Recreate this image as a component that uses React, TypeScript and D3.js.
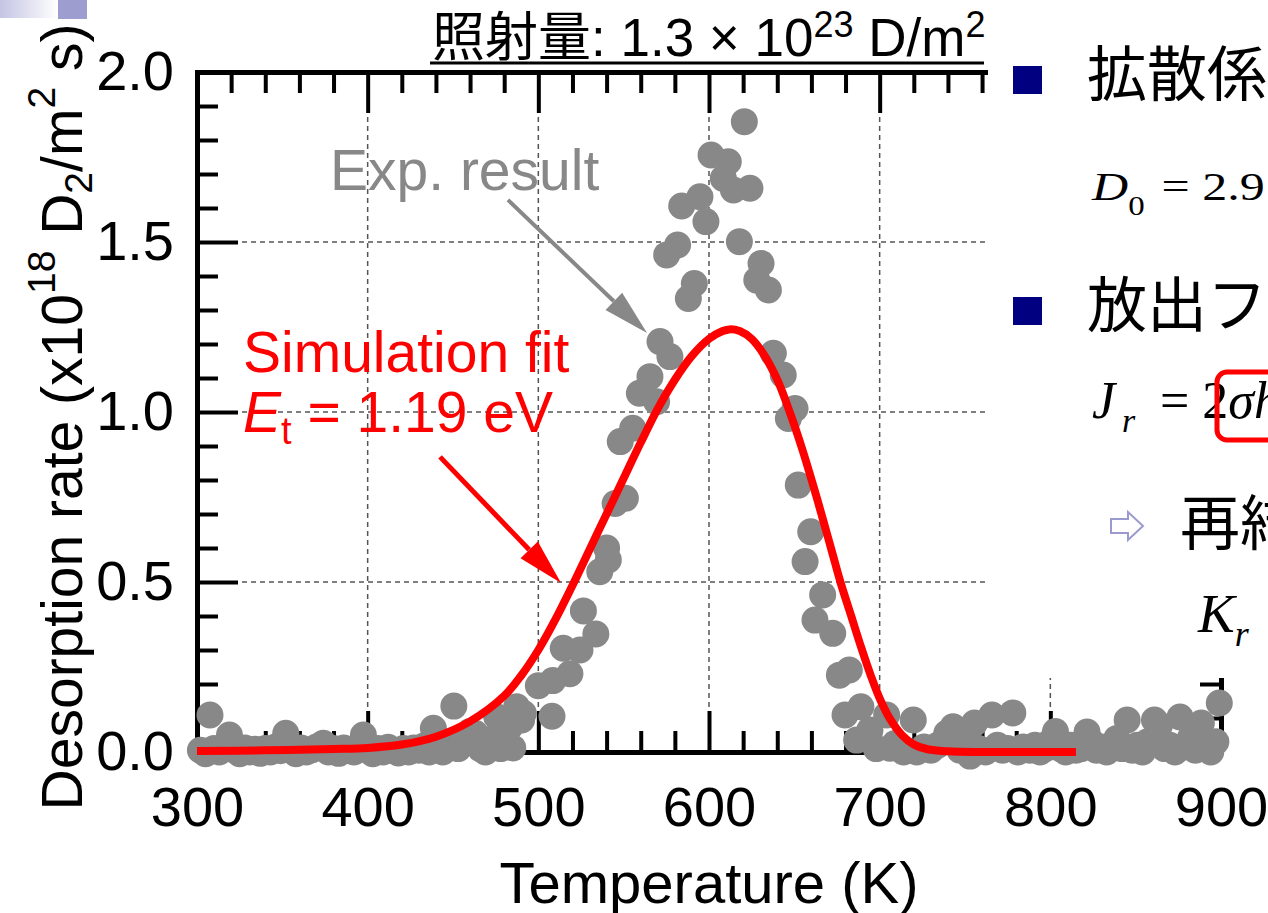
import React, { useEffect, useRef } from "react";
import * as d3 from "d3";

// Experimental desorption data (K, x10^18 D2/m^2 s)
const expTemp = [
  302, 305, 307.6, 310, 313, 316, 319, 322, 325, 328, 331, 334, 337, 340, 343, 346, 349, 352, 355, 358,
  361, 364, 367, 370, 374, 377, 380, 383, 386, 389, 392, 395, 397.5, 400, 403, 406, 409, 412, 415, 418,
  421, 424, 427, 430, 433, 436, 438.5, 441, 444, 447, 450.5, 453, 456, 460, 463, 466, 469, 471, 473.6, 475.6,
  478, 480, 483.4, 485, 487.3, 490.2, 491.2, 500, 508, 508.5, 514.6, 518.5, 524.4, 526.4, 533.7, 536, 540, 541,
  545, 548, 551, 555.3, 559.2, 565.4, 569.3, 571.3, 575.2, 577.1, 581.6, 584, 587.9, 591.4, 594.7, 598.2,
  601.2, 608.4, 611.3, 614.3, 617.8, 620.7, 624, 628, 630.5, 634.8, 637.7, 643.5, 646.5, 650.4, 652.3, 656.3,
  659.6, 662.1, 666.6, 672.5, 676.4, 679.7, 682.2, 686.5, 689, 694.3, 698, 704.1, 706, 709, 714, 719.7, 721.7,
  726, 730, 734, 739.3, 743, 747, 751, 753, 755.6, 758, 762, 765.8, 769, 772, 775, 778, 781, 784, 788, 791,
  794, 797, 800, 803, 806, 809, 812, 815, 818, 821.5, 824, 827, 830, 833, 836, 839, 842, 845, 848, 851, 854,
  857, 861, 864, 867, 870, 873, 876, 879, 882, 885, 888.5, 891, 894, 897, 899,
];
const expRate = [
  0.005, -0.005, 0.109, 0.01, 0.0, 0.015, 0.05, 0.005, -0.005, 0.012, 0.0, 0.008, -0.004, 0.01, 0.0, 0.015, 0.004, 0.055, 0.008, -0.005,
  0.012, 0.0, 0.006, 0.015, 0.026, 0.0, 0.01, -0.004, 0.012, 0.004, 0.0, 0.01, 0.05, 0.005, -0.005, 0.01, 0.0, 0.014, 0.004, -0.003,
  0.01, 0.0, 0.012, 0.005, 0.018, 0.0, 0.07, 0.012, 0.0, 0.02, 0.135, 0.01, 0.025, 0.06, 0.055, 0.01, 0.0, 0.02, 0.04, 0.104,
  0.01, 0.03, 0.074, 0.012, 0.133, 0.094, 0.114, 0.195, 0.105, 0.21, 0.305, 0.23, 0.3, 0.415, 0.347, 0.53, 0.6, 0.565,
  0.731, 0.913, 0.746, 0.952, 1.055, 1.104, 1.03, 1.207, 1.462, 1.163, 1.491, 1.606, 1.334, 1.378, 1.633, 1.56,
  1.756, 1.687, 1.736, 1.653, 1.501, 1.854, 1.658, 1.388, 1.437, 1.359, 1.173, 1.109, 0.981, 1.01, 0.785, 0.56,
  0.648, 0.388, 0.462, 0.349, 0.226, 0.109, 0.241, 0.035, 0.133, 0.065, 0.01, 0.109, 0.011, 0.025, 0.0, 0.094, 0.0,
  0.015, 0.005, 0.02, 0.055, 0.074, 0.005, 0.056, -0.012, 0.085, 0.01, 0.0, 0.109, 0.02, 0.005, 0.01, 0.115, 0.0, 0.015, 0.005, 0.02,
  0.0, 0.01, 0.03, 0.06, 0.01, 0.0, 0.02, 0.005, 0.01, 0.059, 0.03, 0.005, 0.015, 0.0, 0.02, 0.04, 0.01, 0.094, 0.005, 0.02, 0.0,
  0.03, 0.094, 0.079, 0.01, 0.02, 0.0, 0.103, 0.015, 0.04, 0.005, 0.085, 0.02, 0.0, 0.03, 0.144,
];

// Simulation fit curve (Et = 1.19 eV)
const fitTemp = [
  300, 340, 380, 400, 420, 440, 460, 480, 490, 500, 510, 520, 530, 540, 550, 560, 570, 580, 590, 600,
  608, 612, 618, 625, 632, 640, 648, 655, 661, 667, 672, 677, 683, 689, 695, 700, 706, 713, 720, 728,
  740, 760, 815,
];
const fitRate = [
  0.003, 0.005, 0.009, 0.012, 0.022, 0.045, 0.09, 0.165, 0.225, 0.3, 0.39, 0.49, 0.595, 0.7, 0.805, 0.91, 1.01, 1.095, 1.165, 1.215,
  1.238, 1.243, 1.238, 1.215, 1.17, 1.095, 0.99, 0.885, 0.785, 0.68, 0.59, 0.5, 0.405, 0.31, 0.222, 0.158, 0.098, 0.05, 0.022, 0.008,
  0.002, 0.0, 0.0,
];

const xMajor = [300, 400, 500, 600, 700, 800, 900];
const yMajor = [0, 0.5, 1.0, 1.5, 2.0];
const xGrid = [400, 500, 600, 700, 800];
const yGrid = [0.5, 1.0, 1.5];

const SANS = "'Liberation Sans', Arial, 'Noto Sans CJK JP', sans-serif";
const SERIF = "'Liberation Serif', 'Times New Roman', serif";
const CJK = "'Noto Sans CJK JP', 'Liberation Sans', sans-serif";

const App = () => {
  const svgRef = useRef<SVGSVGElement | null>(null);

  useEffect(() => {
    drawChart();
  }, []);

  const drawChart = () => {
    const svg = d3.select(svgRef.current);
    svg.selectAll("*").remove();

    const x = d3.scaleLinear().domain([300, 900]).range([197, 1221]);
    const y = d3.scaleLinear().domain([0, 2]).range([752, 72]);
    const [x0, x1] = x.range();
    const [yb, yt] = y.range();

    // slide decoration top-left
    const defs = svg.append("defs");
    const grad = defs.append("linearGradient").attr("id", "deco").attr("x1", 0).attr("x2", 1);
    grad.append("stop").attr("offset", 0).attr("stop-color", "#c4c4e4");
    grad.append("stop").attr("offset", 1).attr("stop-color", "#ffffff");
    svg.append("rect").attr("x", 0).attr("y", 0).attr("width", 58).attr("height", 18).attr("fill", "url(#deco)");
    svg.append("rect").attr("x", 58).attr("y", 0).attr("width", 29).attr("height", 19).attr("fill", "#9d9dd0");

    // dashed grid
    const grid = svg.append("g").attr("stroke", "#555").attr("stroke-width", 1.5).attr("stroke-dasharray", "5,4");
    grid.selectAll(".gx").data(xGrid).enter().append("line")
      .attr("x1", (d) => x(d)).attr("x2", (d) => x(d)).attr("y1", yt).attr("y2", yb);
    grid.selectAll(".gy").data(yGrid).enter().append("line")
      .attr("x1", x0).attr("x2", x1).attr("y1", (d) => y(d)).attr("y2", (d) => y(d));

    // axes: minor + major ticks pointing inward
    const xMinor = d3.range(300, 901, 20).filter((v) => v % 100 !== 0);
    const yMinor = d3.range(0, 21, 1).map((v) => v / 10).filter((v) => Math.round(v * 10) % 5 !== 0);

    const styleAxis = (g: any, showDomain: boolean) => {
      g.select(".domain").attr("stroke-width", showDomain ? 5 : 0).attr("stroke-linecap", "square");
      g.selectAll(".tick line").attr("stroke-width", 4);
      g.selectAll("text").attr("font-family", SANS).attr("font-size", 56).attr("fill", "#000");
    };

    const axes = svg.append("g");
    const addAxis = (axis: any, tx: number, ty: number, domain: boolean) => {
      const g = axes.append("g").attr("transform", `translate(${tx},${ty})`).call(axis);
      styleAxis(g, domain);
      return g;
    };

    addAxis(d3.axisBottom(x).tickValues(xMinor).tickSize(-21).tickSizeOuter(0).tickFormat(() => ""), 0, yb, false);
    addAxis(d3.axisTop(x).tickValues(xMinor).tickSize(-21).tickSizeOuter(0).tickFormat(() => ""), 0, yt, false);
    addAxis(d3.axisLeft(y).tickValues(yMinor).tickSize(-21).tickSizeOuter(0).tickFormat(() => ""), x0, 0, false);
    addAxis(d3.axisRight(y).tickValues(yMinor).tickSize(-21).tickSizeOuter(0).tickFormat(() => ""), x1, 0, false);

    addAxis(
      d3.axisBottom(x).tickValues(xMajor).tickSize(-41).tickSizeOuter(0).tickPadding(34).tickFormat(d3.format("d")),
      0, yb, true
    );
    addAxis(d3.axisTop(x).tickValues(xMajor).tickSize(-41).tickSizeOuter(0).tickFormat(() => ""), 0, yt, true);
    addAxis(
      d3.axisLeft(y).tickValues(yMajor).tickSize(-41).tickSizeOuter(0).tickPadding(23).tickFormat(d3.format(".1f")),
      x0, 0, true
    );
    addAxis(d3.axisRight(y).tickValues(yMajor).tickSize(-41).tickSizeOuter(0).tickFormat(() => ""), x1, 0, true);

    // experimental points
    svg.append("g").selectAll("circle").data(expTemp).enter().append("circle")
      .attr("cx", (d) => x(d))
      .attr("cy", (_, i) => y(expRate[i]))
      .attr("r", 13.5)
      .attr("fill", "#888888");

    // simulation fit
    const line = d3.line<number>()
      .x((d) => x(d))
      .y((_, i) => y(fitRate[i]))
      .curve(d3.curveCatmullRom.alpha(0.5));
    svg.append("path").attr("d", line(fitTemp)).attr("fill", "none").attr("stroke", "#ff0000").attr("stroke-width", 8);

    // annotation arrows (data coordinates)
    const arrow = (from: number[], to: number[], color: string, width: number) => {
      const ax = x(from[0]), ay = y(from[1]), bx = x(to[0]), by = y(to[1]);
      const ang = Math.atan2(by - ay, bx - ax);
      const len = 46, half = 12;
      const cx = bx - len * Math.cos(ang), cy = by - len * Math.sin(ang);
      svg.append("line").attr("x1", ax).attr("y1", ay).attr("x2", cx).attr("y2", cy)
        .attr("stroke", color).attr("stroke-width", width);
      const pts = [
        [bx, by],
        [cx + half * Math.sin(ang), cy - half * Math.cos(ang)],
        [cx - half * Math.sin(ang), cy + half * Math.cos(ang)],
      ];
      svg.append("polygon").attr("points", pts.map((p) => p.join(",")).join(" ")).attr("fill", color);
    };
    arrow([482.2, 1.624], [563.7, 1.232], "#888888", 4);
    arrow([442.4, 0.868], [513.3, 0.497], "#ff0000", 5);

    svg.append("text").attr("x", 330).attr("y", 190).attr("font-family", SANS).attr("font-size", 57)
      .attr("fill", "#888888").text("Exp. result");
    svg.append("text").attr("x", 243).attr("y", 372).attr("font-family", SANS).attr("font-size", 57)
      .attr("fill", "#ff0000").text("Simulation fit");
    const et = svg.append("text").attr("x", 243).attr("y", 432).attr("font-family", SANS).attr("font-size", 57)
      .attr("fill", "#ff0000");
    et.append("tspan").attr("font-style", "italic").text("E");
    et.append("tspan").attr("font-size", 38).attr("dy", 12).text("t");
    et.append("tspan").attr("dy", -12).text(" = 1.19 eV");

    // axis titles
    svg.append("text").attr("x", 709).attr("y", 903).attr("text-anchor", "middle")
      .attr("font-family", SANS).attr("font-size", 58).text("Temperature (K)");
    const yl = svg.append("text").attr("transform", "translate(82,417) rotate(-90)").attr("text-anchor", "middle")
      .attr("font-family", SANS).attr("font-size", 57);
    yl.append("tspan").text("Desorption rate (x10");
    yl.append("tspan").attr("font-size", 39).attr("dy", -27).text("18");
    yl.append("tspan").attr("dy", 27).text(" D");
    yl.append("tspan").attr("font-size", 39).attr("dy", 10).text("2");
    yl.append("tspan").attr("dy", -10).text("/m");
    yl.append("tspan").attr("font-size", 39).attr("dy", -27).text("2");
    yl.append("tspan").attr("dy", 27).text(" s)");

    // slide text box covering the right part of the plot
    svg.append("rect").attr("x", 988).attr("y", 0).attr("width", 280).attr("height", 678).attr("fill", "#fff");

    // title
    const title = svg.append("text").attr("x", 432).attr("y", 56).attr("font-family", SANS).attr("font-size", 53);
    title.append("tspan").text("照射量: 1.3 × 10");
    title.append("tspan").attr("font-size", 36).attr("dy", -19).text("23");
    title.append("tspan").attr("dy", 19).text(" D/m");
    title.append("tspan").attr("font-size", 36).attr("dy", -19).text("2");
    svg.append("line").attr("x1", 430).attr("x2", 984).attr("y1", 63).attr("y2", 63)
      .attr("stroke", "#000").attr("stroke-width", 3);

    // right-hand slide content
    const side = svg.append("g");
    side.append("rect").attr("x", 1013).attr("y", 66).attr("width", 29).attr("height", 28).attr("fill", "#000080");
    side.append("rect").attr("x", 1013).attr("y", 297).attr("width", 29).attr("height", 28).attr("fill", "#000080");
    side.append("text").attr("x", 1087).attr("y", 96).attr("font-family", CJK).attr("font-size", 60).text("拡散係数");
    side.append("text").attr("x", 1087).attr("y", 327).attr("font-family", CJK).attr("font-size", 60).text("放出フラックス");
    side.append("text").attr("x", 1180).attr("y", 545).attr("font-family", CJK).attr("font-size", 60).text("再結合係数");

    const d0 = side.append("text").attr("transform", "translate(1092,200) scale(1.22,1)")
      .attr("font-family", SERIF).attr("font-size", 41);
    d0.append("tspan").attr("font-style", "italic").text("D");
    d0.append("tspan").attr("font-size", 27).attr("dy", 15).text("0");
    d0.append("tspan").attr("x", 57).attr("dy", -15).text("= 2.9×10");

    const jr = side.append("text").attr("x", 1092).attr("y", 418).attr("font-family", SERIF).attr("font-size", 52);
    jr.append("tspan").attr("font-style", "italic").text("J");
    jr.append("tspan").attr("font-style", "italic").attr("font-size", 34).attr("x", 1122).attr("dy", 14).text("r");
    jr.append("tspan").attr("x", 1160).attr("dy", -14).text("= 2");
    jr.append("tspan").attr("font-style", "italic").text("σh");
    side.append("rect").attr("x", 1217).attr("y", 372).attr("width", 80).attr("height", 68).attr("rx", 10)
      .attr("fill", "none").attr("stroke", "#ff0000").attr("stroke-width", 5);

    side.append("path")
      .attr("d", "M1111,519 L1128,519 L1128,512 L1143,526 L1128,540 L1128,533 L1111,533 Z")
      .attr("fill", "#fff").attr("stroke", "#9a9ad0").attr("stroke-width", 2);

    const kr = side.append("text").attr("x", 1198).attr("y", 632).attr("font-family", SERIF).attr("font-size", 55);
    kr.append("tspan").attr("font-style", "italic").text("K");
    kr.append("tspan").attr("font-style", "italic").attr("font-size", 36).attr("dy", 14).text("r");
  };

  return (
    <svg
      ref={svgRef}
      width={1268}
      height={913}
      style={{ position: "absolute", left: 0, top: 0, background: "#fff" }}
    />
  );
};

export default App;
